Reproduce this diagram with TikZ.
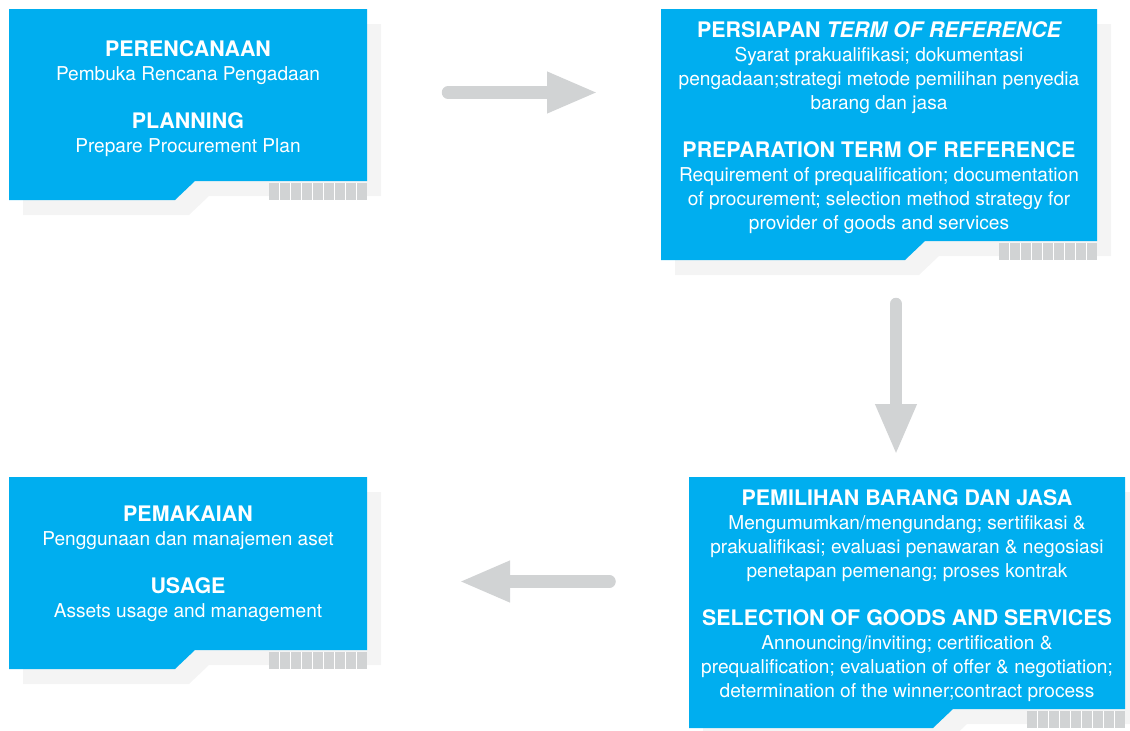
\documentclass[tikz,border=0pt]{standalone}
\usepackage{fontspec}
\setmainfont{TeX Gyre Heros}
\usetikzlibrary{arrows.meta}
\definecolor{panelblue}{HTML}{00AEEF}
\definecolor{panelshade}{HTML}{F4F4F4}
\definecolor{panelstripe}{HTML}{D1D3D4}
\definecolor{flowgray}{HTML}{D1D3D4}
% title line inside a panel
\newcommand{\paneltitle}[1]{{\bfseries\fontsize{21.4}{24}\selectfont #1}}
% notched panel: x1, y1, x2, y2
\newcommand{\procpanel}[4]{%
  \fill[panelshade] ({#1+14},{#2+15}) -- ({#3+14},{#2+15}) -- ({#3+14},{#4-4})
    -- ({#3-158},{#4-4}) -- ({#3-178},{#4+15}) -- ({#1+14},{#4+15}) -- cycle;
  \fill[panelblue] (#1,#2) -- (#3,#2) -- (#3,{#4-19}) -- ({#3-172},{#4-19})
    -- ({#3-192},#4) -- (#1,#4) -- cycle;
  \fill[white] ({#3-98},{#4-17}) rectangle (#3,#4);
  \foreach \s in {0,...,8}
    \fill[panelstripe] ({#3-98+\s*11},{#4-17}) rectangle ++(9.8,17);
}
\begin{document}
\begin{tikzpicture}[
  x=1pt, y=-1pt,
  paneltext/.style = {text=white, align=center, inner sep=0pt,
    font=\fontsize{19.1}{24}\selectfont},
  flowarrow/.style = {flowgray, line width=12.5pt, line cap=round,
    -{Triangle[length=51pt, width=38pt]}}
]
  \useasboundingbox (0,0) rectangle (1130,731);
  % panels
  \procpanel{9}{9}{367}{200}
  \procpanel{661}{9}{1097}{260}
  \procpanel{689}{477}{1125}{728}
  \procpanel{9}{477}{367}{669}
  % texts
  \node[paneltext, anchor=north] (plan) at (188,40)
    {\paneltitle{PERENCANAAN}\\Pembuka Rencana Pengadaan\\[24pt]
     \paneltitle{PLANNING}\\Prepare Procurement Plan};
  \node[paneltext, anchor=north] (tor) at (879,21)
    {\paneltitle{PERSIAPAN \itshape TERM OF REFERENCE}\\
     Syarat prakualifikasi; dokumentasi\\
     pengadaan;strategi metode pemilihan penyedia\\
     barang dan jasa\\[24pt]
     \paneltitle{PREPARATION TERM OF REFERENCE}\\
     Requirement of prequalification; documentation\\
     of procurement; selection method strategy for\\
     provider of goods and services};
  \node[paneltext, anchor=north] (select) at (907,489)
    {\paneltitle{PEMILIHAN BARANG DAN JASA}\\
     Mengumumkan/mengundang; sertifikasi \&\\
     prakualifikasi; evaluasi penawaran \& negosiasi\\
     penetapan pemenang; proses kontrak\\[24pt]
     \paneltitle{SELECTION OF GOODS AND SERVICES}\\
     Announcing/inviting; certification \&\\
     prequalification; evaluation of offer \& negotiation;\\
     determination of the winner;contract process};
  \node[paneltext, anchor=north] (usage) at (188,506)
    {\paneltitle{PEMAKAIAN}\\Penggunaan dan manajemen aset\\[24pt]
     \paneltitle{USAGE}\\Assets usage and management};
  % flow arrows
  \coordinate (planout) at (448,92.5);
  \coordinate (torin) at (598,92.5);
  \coordinate (torout) at (896,304);
  \coordinate (selectin) at (896,455);
  \coordinate (selectout) at (609.5,581.5);
  \coordinate (usagein) at (459,581.5);
  \draw[flowarrow] (planout) -- (torin);
  \draw[flowarrow] (torout) -- (selectin);
  \draw[flowarrow] (selectout) -- (usagein);
\end{tikzpicture}
\end{document}
